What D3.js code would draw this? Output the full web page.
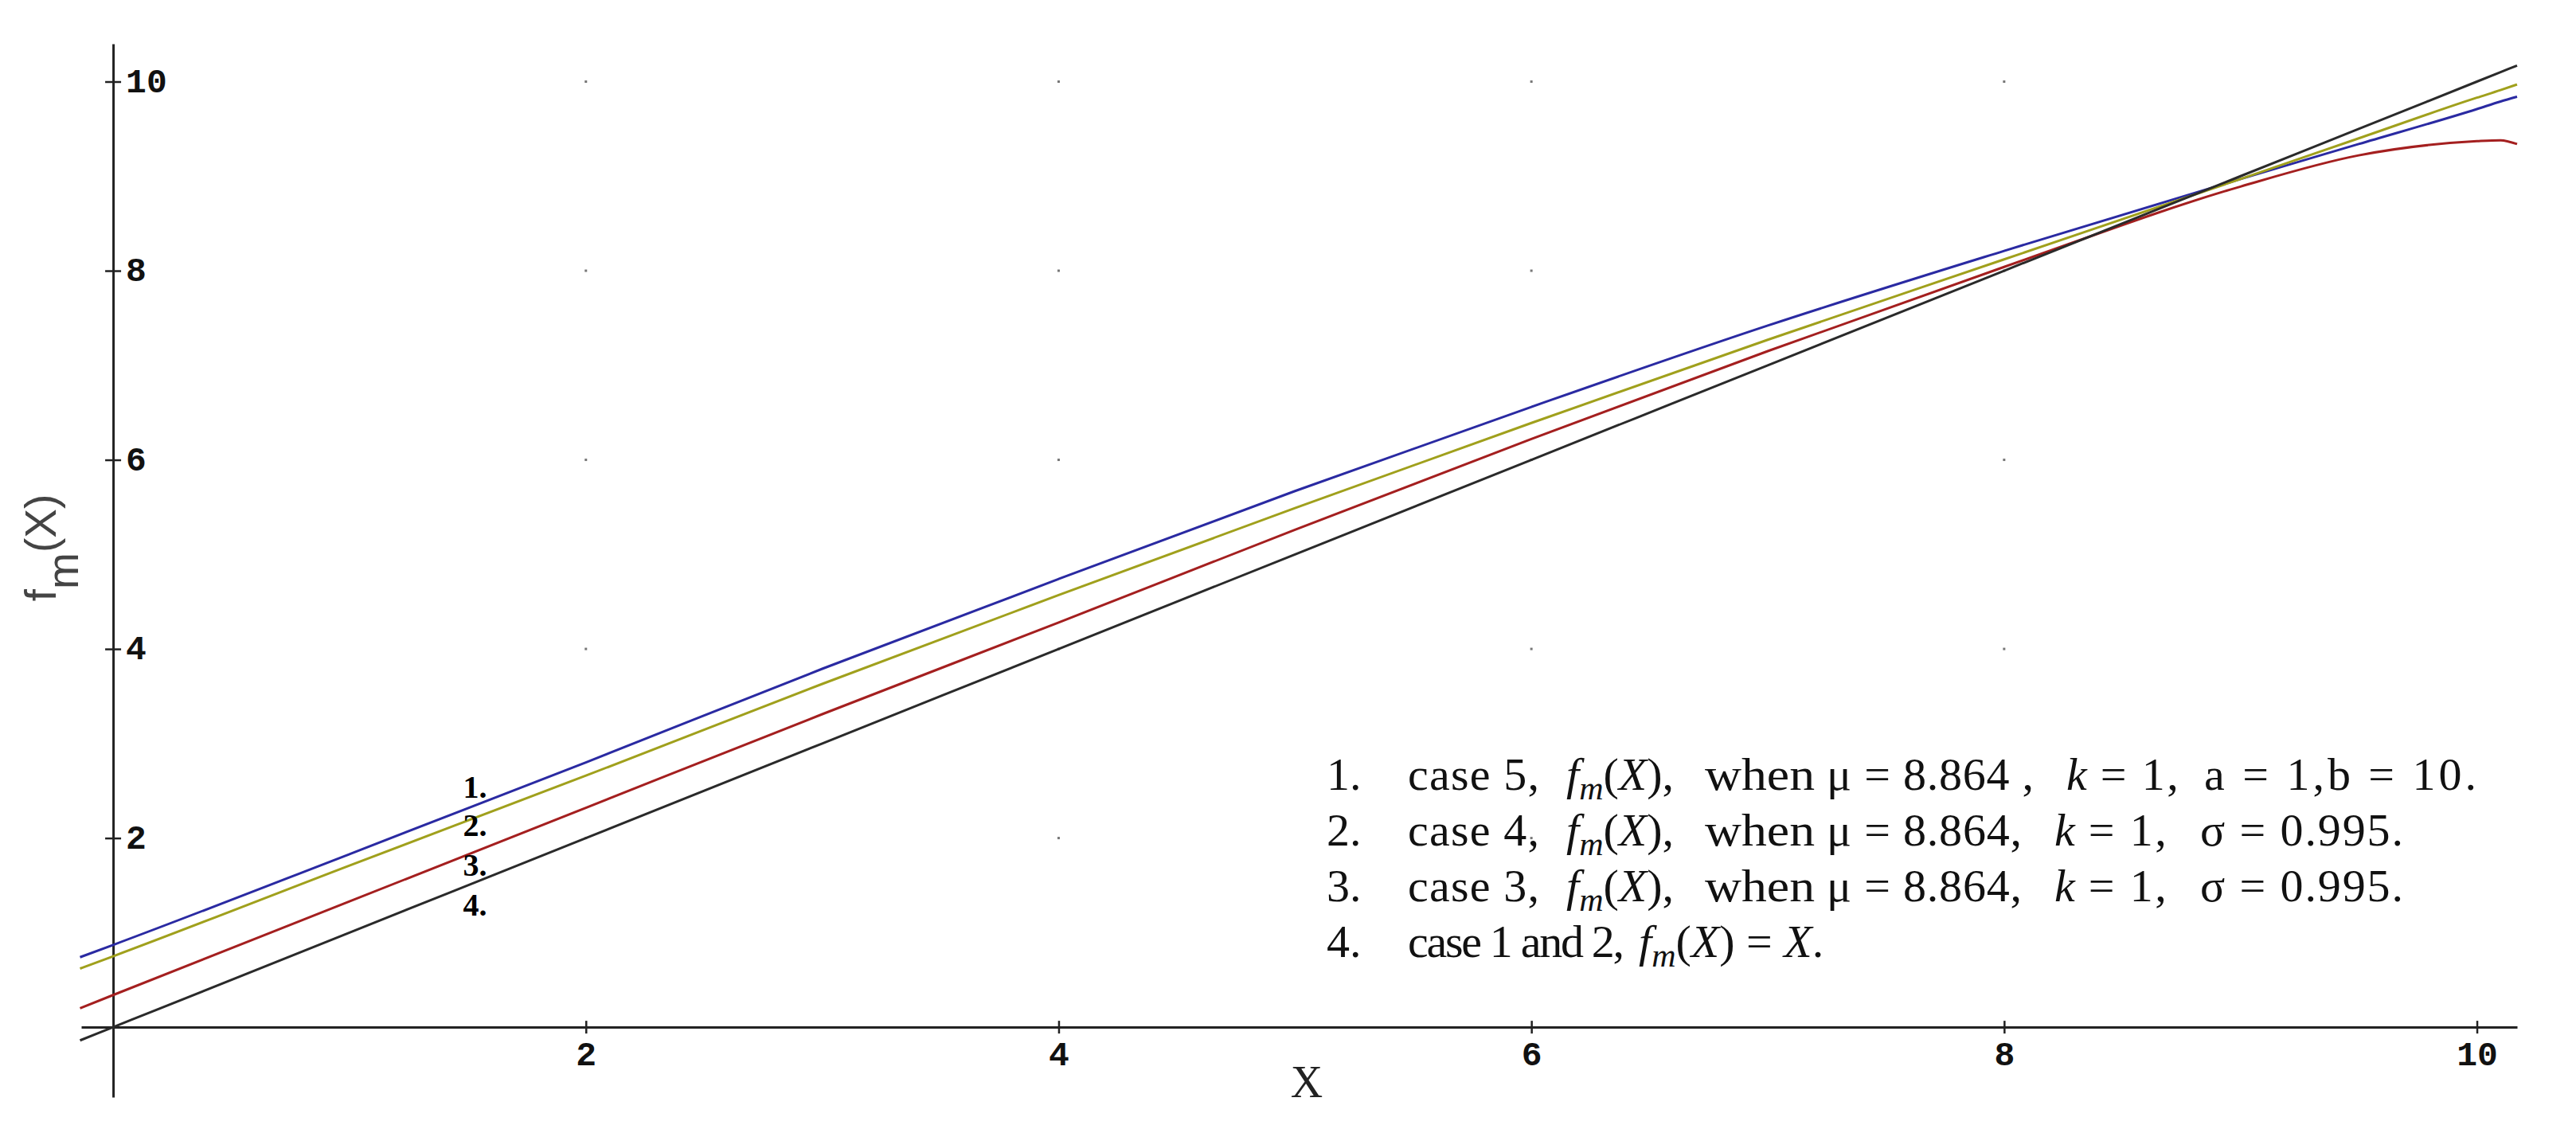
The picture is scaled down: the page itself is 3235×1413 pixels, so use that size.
<!DOCTYPE html>
<html>
<head>
<meta charset="utf-8">
<script src="https://cdn.jsdelivr.net/npm/d3@7"></script>
<style>
  html, body { margin: 0; padding: 0; background: #fff; }
  svg { display: block; }
</style>
</head>
<body>
<svg id="chart" width="3235" height="1413"></svg>
<script>
// sample points
const xs    = [-0.14, 0, 1, 2, 3, 4, 5, 6, 7, 8, 9, 9.5, 10, 10.1, 10.17];
const case5 = [0.74, 0.87, 1.83, 2.80, 3.79, 4.74, 5.67, 6.56, 7.42, 8.21, 8.97, 9.34, 9.71, 9.79, 9.84];
const case4 = [0.62, 0.75, 1.71, 2.66, 3.63, 4.57, 5.49, 6.39, 7.27, 8.12, 8.97, 9.40, 9.83, 9.91, 9.97];
const case3 = [0.20, 0.34, 1.33, 2.32, 3.31, 4.28, 5.26, 6.22, 7.15, 8.04, 8.89, 9.22, 9.37, 9.38, 9.34];
const case12 = [-0.14, 0, 1, 2, 3, 4, 5, 6, 7, 8, 9, 9.5, 10, 10.1, 10.17];

const xTicks = [2, 4, 6, 8, 10];
const yTicks = [2, 4, 6, 8, 10];
const gridX = [2, 4, 6, 8];
const gridY = [2, 4, 6, 8, 10];

const seriesNames = ['1.', '2.', '3.', '4.'];
const seriesColors = ['#2a2aa2', '#a0a01c', '#a41f1f', '#2a2a2a'];
const labelX = 1.48;
const labelY = [2.43, 2.02, 1.60, 1.18];

const legendNums = ['1.', '2.', '3.', '4.'];
const legendCases = ['case 5,', 'case 4,', 'case 3,', 'case 1 and 2,'];
const legendMu = ['μ = 8.864 ,', 'μ = 8.864,', 'μ = 8.864,', ''];
const legendTail = ['a = 1,b = 10.', 'σ = 0.995.', 'σ = 0.995.', ''];

const svg = d3.select('#chart');

const x = d3.scaleLinear().domain([-0.135, 10.17]).range([102, 3161]);
const y = d3.scaleLinear().domain([-0.74, 10.40]).range([1378, 55]);

// grid dots
const dots = [];
gridX.forEach(gx => gridY.forEach(gy => dots.push([gx, gy])));
svg.append('g')
  .selectAll('rect')
  .data(dots)
  .enter()
  .append('rect')
    .attr('x', d => x(d[0]) - 1.5)
    .attr('y', d => y(d[1]) - 1.5)
    .attr('width', 3)
    .attr('height', 3)
    .attr('fill', '#777');

// axes
const xAxis = svg.append('g')
  .attr('transform', 'translate(0,' + y(0) + ')')
  .call(d3.axisBottom(x).tickValues(xTicks).tickSizeOuter(0).tickFormat(d3.format('d')));
xAxis.select('.domain').attr('stroke', '#222').attr('stroke-width', 3);
xAxis.selectAll('.tick line').attr('y1', -8).attr('y2', 8).attr('stroke', '#222').attr('stroke-width', 2.5);
xAxis.selectAll('.tick text')
  .attr('y', 48).attr('dy', 0)
  .attr('fill', '#111')
  .style('font-family', '"Liberation Mono", monospace')
  .style('font-weight', 'bold')
  .style('font-size', '43px');

const yAxis = svg.append('g')
  .attr('transform', 'translate(' + x(0) + ',0)')
  .call(d3.axisRight(y).tickValues(yTicks).tickSizeOuter(0).tickFormat(d3.format('d')));
yAxis.select('.domain').attr('stroke', '#222').attr('stroke-width', 3);
yAxis.selectAll('.tick line').attr('x1', -10).attr('x2', 10).attr('stroke', '#222').attr('stroke-width', 2.5);
yAxis.selectAll('.tick text')
  .attr('x', 16).attr('dy', '0.3em')
  .attr('fill', '#111')
  .attr('text-anchor', 'start')
  .style('font-family', '"Liberation Mono", monospace')
  .style('font-weight', 'bold')
  .style('font-size', '43px');

// curves
const series = [case5, case4, case3, case12];
const line = d3.line()
  .x(d => x(d[0]))
  .y(d => y(d[1]))
  .curve(d3.curveMonotoneX);

svg.append('g')
  .selectAll('path')
  .data(series)
  .enter()
  .append('path')
    .attr('d', s => line(xs.map((v, i) => [v, s[i]])))
    .attr('fill', 'none')
    .attr('stroke', (d, i) => seriesColors[i])
    .attr('stroke-width', 3);

// curve number labels
svg.append('g')
  .selectAll('text')
  .data(seriesNames)
  .enter()
  .append('text')
    .attr('x', x(labelX))
    .attr('y', (d, i) => y(labelY[i]))
    .style('font-family', '"Liberation Serif", serif')
    .style('font-weight', 'bold')
    .style('font-size', '40px')
    .attr('fill', '#000')
    .text(d => d);

// axis titles
svg.append('text')
  .attr('x', 1641)
  .attr('y', 1378)
  .attr('text-anchor', 'middle')
  .style('font-family', '"Liberation Serif", serif')
  .style('font-size', '56px')
  .attr('fill', '#222')
  .text('X');

const yTitle = svg.append('text')
  .attr('transform', 'translate(70,688) rotate(-90)')
  .attr('text-anchor', 'middle')
  .style('font-family', '"Liberation Sans", Arial, sans-serif')
  .style('font-size', '55px')
  .attr('fill', '#444');
yTitle.append('tspan').text('f');
yTitle.append('tspan').attr('dy', 28).text('m');
yTitle.append('tspan').attr('dy', -28).text('(X)');

// legend
const legend = svg.append('g')
  .style('font-family', '"Liberation Serif", serif')
  .style('font-size', '58px')
  .attr('fill', '#111');

const legendBase = [992, 1062, 1132, 1202];

function fmX(t, xPos) {
  t.append('tspan').attr('x', xPos).style('font-style', 'italic').text('f');
  t.append('tspan').attr('dy', 12).style('font-style', 'italic').style('font-size', '42px').text('m');
  t.append('tspan').attr('dy', -12).text('(');
  t.append('tspan').style('font-style', 'italic').text('X');
  t.append('tspan').text(')');
}

legendNums.forEach((n, i) => {
  const t = legend.append('text').attr('y', legendBase[i]);
  t.append('tspan').attr('x', 1666).text(n);
  if (i === 3) {
    t.append('tspan').attr('x', 1768).attr('textLength', 272).text(legendCases[i]);
    fmX(t, 2058);
    t.append('tspan').text(' = ');
    t.append('tspan').style('font-style', 'italic').text('X');
    t.append('tspan').text('.');
    return;
  }
  t.append('tspan').attr('x', 1768).attr('textLength', 165).text(legendCases[i]);
  fmX(t, 1967);
  t.append('tspan').text(',');
  t.append('tspan').attr('x', 2141).attr('textLength', 138).attr('lengthAdjust', 'spacingAndGlyphs').text('when');
  t.append('tspan').attr('x', 2294).attr('textLength', i === 0 ? 260 : 245).text(legendMu[i]);
  t.append('tspan').attr('x', i === 0 ? 2595 : 2580).style('font-style', 'italic').text('k');
  t.append('tspan').attr('textLength', 115).text(' = 1,');
  t.append('tspan').attr('x', i === 0 ? 2768 : 2763).attr('textLength', i === 0 ? 342 : 255).text(legendTail[i]);
});
</script>
</body>
</html>
